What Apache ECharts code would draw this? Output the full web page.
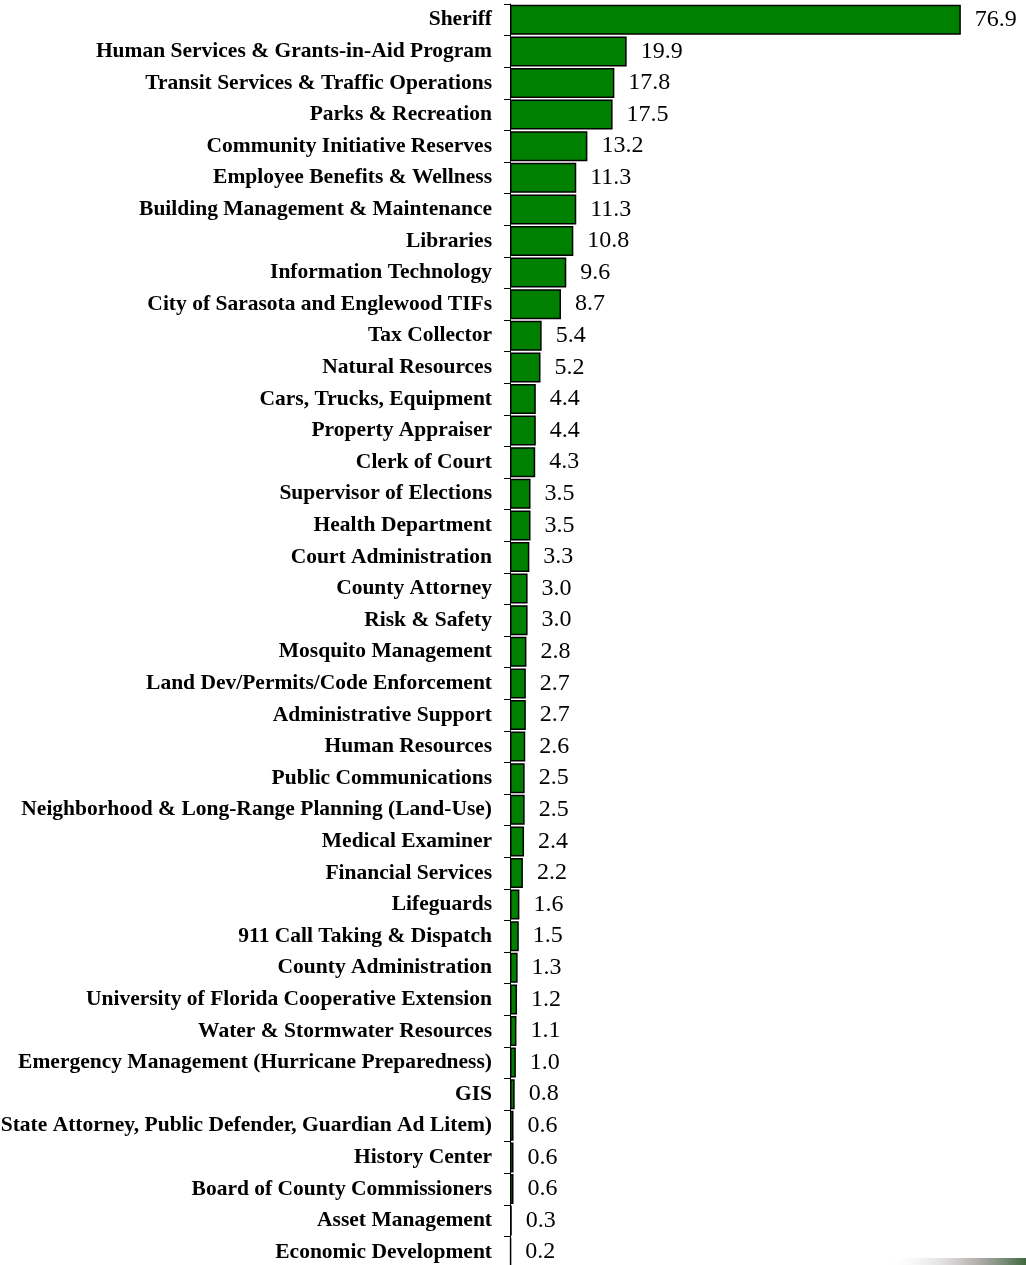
<!DOCTYPE html>
<html>
<head>
<meta charset="utf-8">
<script src="https://cdn.jsdelivr.net/npm/echarts@6/dist/echarts.min.js"></script>
<style>
  html, body { margin: 0; padding: 0; background: #fff; }
  #chart { width: 1026px; height: 1265px; }
</style>
</head>
<body>
<div id="chart"></div>
<script>
// departments, top to bottom
var departments = [
  'Sheriff',
  'Human Services & Grants-in-Aid Program',
  'Transit Services & Traffic Operations',
  'Parks & Recreation',
  'Community Initiative Reserves',
  'Employee Benefits & Wellness',
  'Building Management & Maintenance',
  'Libraries',
  'Information Technology',
  'City of Sarasota and Englewood TIFs',
  'Tax Collector',
  'Natural Resources',
  'Cars, Trucks, Equipment',
  'Property Appraiser',
  'Clerk of Court',
  'Supervisor of Elections',
  'Health Department',
  'Court Administration',
  'County Attorney',
  'Risk & Safety',
  'Mosquito Management',
  'Land Dev/Permits/Code Enforcement',
  'Administrative Support',
  'Human Resources',
  'Public Communications',
  'Neighborhood & Long-Range Planning (Land-Use)',
  'Medical Examiner',
  'Financial Services',
  'Lifeguards',
  '911 Call Taking & Dispatch',
  'County Administration',
  'University of Florida Cooperative Extension',
  'Water & Stormwater Resources',
  'Emergency Management (Hurricane Preparedness)',
  'GIS',
  'Judicial (State Attorney, Public Defender, Guardian Ad Litem)',
  'History Center',
  'Board of County Commissioners',
  'Asset Management',
  'Economic Development'
];

// millions
var amounts = [
  76.9, 19.9, 17.8, 17.5, 13.2, 11.3, 11.3, 10.8, 9.6, 8.7,
  5.4, 5.2, 4.4, 4.4, 4.3, 3.5, 3.5, 3.3, 3.0, 3.0,
  2.8, 2.7, 2.7, 2.6, 2.5, 2.5, 2.4, 2.2, 1.6, 1.5,
  1.3, 1.2, 1.1, 1.0, 0.8, 0.6, 0.6, 0.6, 0.3, 0.2
];

var myChart = echarts.init(document.getElementById('chart'));
myChart.setOption({
  animation: false,
  grid: { left: 510, right: 47, top: 4, height: 1264, containLabel: false, outerBoundsMode: 'none' },
  xAxis: {
    type: 'value',
    min: 0,
    max: 80,
    show: false
  },
  yAxis: {
    type: 'category',
    inverse: true,
    data: departments,
    axisLine: { show: true, lineStyle: { color: '#000', width: 1 } },
    axisTick: { show: true, length: 6, lineStyle: { color: '#000', width: 1 } },
    axisLabel: {
      margin: 18,
      color: '#000',
      fontFamily: 'Liberation Serif',
      fontWeight: 'bold',
      fontSize: 21.5
    }
  },
  // faint smudge in the lower right corner of the original scan
  graphic: [{
    type: 'rect',
    right: 0,
    bottom: 0,
    shape: { width: 140, height: 7 },
    style: {
      fill: new echarts.graphic.LinearGradient(0, 0, 1, 0, [
        { offset: 0, color: 'rgba(255,255,255,0)' },
        { offset: 0.6, color: 'rgba(110,100,100,0.45)' },
        { offset: 1, color: 'rgba(30,80,30,0.85)' }
      ])
    },
    silent: true
  }],
  series: [{
    type: 'bar',
    data: amounts,
    barCategoryGap: '5%',
    itemStyle: { color: '#008000', borderColor: '#000', borderWidth: 1.5 },
    label: {
      show: true,
      position: 'right',
      distance: 14,
      color: '#000',
      fontFamily: 'Liberation Serif',
      fontSize: 24,
      formatter: function (p) { return p.value.toFixed(1); }
    }
  }]
});
</script>
</body>
</html>
